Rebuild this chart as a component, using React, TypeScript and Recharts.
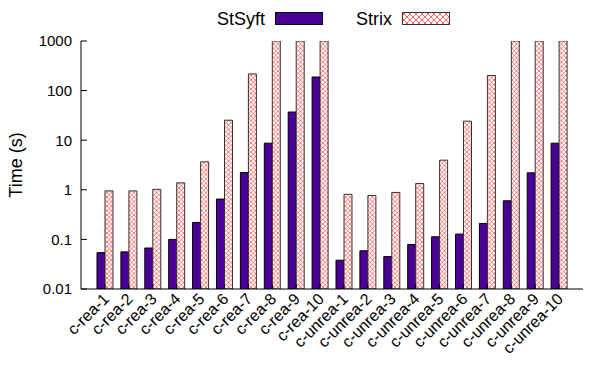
import React from 'react';
import { BarChart, Bar, XAxis, YAxis, Legend } from 'recharts';

const categories = [
  'c-rea-1', 'c-rea-2', 'c-rea-3', 'c-rea-4', 'c-rea-5', 'c-rea-6', 'c-rea-7', 'c-rea-8', 'c-rea-9', 'c-rea-10',
  'c-unrea-1', 'c-unrea-2', 'c-unrea-3', 'c-unrea-4', 'c-unrea-5', 'c-unrea-6', 'c-unrea-7', 'c-unrea-8', 'c-unrea-9', 'c-unrea-10',
];
const stsyftValues = [0.054, 0.056, 0.067, 0.1, 0.22, 0.65, 2.23, 8.7, 37, 188, 0.038, 0.059, 0.045, 0.079, 0.113, 0.128, 0.21, 0.6, 2.2, 8.7];
const strixValues = [0.95, 0.95, 1.02, 1.38, 3.66, 25.3, 217, 1000, 1000, 1000, 0.81, 0.77, 0.885, 1.34, 3.96, 24.2, 201, 1000, 1000, 1000];
const majorTicks = [0.01, 0.1, 1, 10, 100, 1000];
const minorTicks = [0.02, 0.05, 0.2, 0.5, 2, 5, 20, 50, 200, 500];
const seriesNames = ['StSyft', 'Strix'];

const data = categories.map((c, i) => ({ name: c, StSyft: stsyftValues[i], Strix: strixValues[i] }));

const FONT = 'Liberation Sans, Arial, Helvetica, sans-serif';
const PURPLE = '#4a0096';

const XTick = (props: any) => {
  const { x, y, payload } = props;
  return (
    <g transform={`translate(${x + 5},${y})`}>
      <text x={0} y={0} transform="rotate(-45)" textAnchor="end" fontSize={16} fontFamily={FONT} fill="#000">
        {payload.value}
      </text>
    </g>
  );
};

const NoTick = () => <g />;

const LegendContent = () => (
  <div style={{ width: 592, height: 33 }}>
    <svg width={592} height={33} style={{ display: 'block' }}>
      <defs>
        <pattern id="xhatchLegend" width="6" height="6" patternUnits="userSpaceOnUse">
          <rect width="6" height="6" fill="#fff" />
          <path d="M0,0 L6,6 M6,0 L0,6" stroke="#f22" strokeWidth="0.7" />
        </pattern>
      </defs>
      <text x={257} y={17} textAnchor="end" fontSize={18} fontFamily={FONT} fill="#000">{seriesNames[0]}</text>
      <rect x={267.5} y={4.5} width={47} height={12} fill={PURPLE} stroke="#000" strokeWidth={1} />
      <text x={384} y={17} textAnchor="end" fontSize={18} fontFamily={FONT} fill="#000">{seriesNames[1]}</text>
      <rect x={394.5} y={4.5} width={47} height={12} fill="url(#xhatchLegend)" stroke="#333" strokeWidth={1} />
    </svg>
  </div>
);

export default function App() {
  return (
    <BarChart
      width={592}
      height={349}
      data={data}
      margin={{ top: 0, right: 17, bottom: 0, left: 0 }}
      barGap={0}
      style={{ fontFamily: FONT }}
    >
      <defs>
        <pattern id="xhatch" width="4.5" height="4.5" patternUnits="userSpaceOnUse">
          <rect width="4.5" height="4.5" fill="#fff" />
          <path d="M0,0 L4.5,4.5 M4.5,0 L0,4.5" stroke="#f22" strokeWidth="0.6" />
        </pattern>
      </defs>
      <Legend verticalAlign="top" align="left" content={() => <LegendContent />} />
      <XAxis
        dataKey="name"
        height={68}
        padding={{ left: 12, right: 12 }}
        interval={0}
        tickSize={-5}
        tickMargin={16}
        tick={<XTick />}
        axisLine={{ stroke: '#000' }}
        tickLine={{ stroke: '#000' }}
      />
      <XAxis
        xAxisId="top"
        orientation="top"
        dataKey="name"
        height={0}
        padding={{ left: 12, right: 12 }}
        interval={0}
        tickSize={-5}
        tick={NoTick}
        axisLine={{ stroke: '#000' }}
        tickLine={{ stroke: '#000' }}
      />
      <YAxis
        yAxisId="ymin"
        type="number"
        scale="log"
        domain={[0.01, 1000]}
        allowDataOverflow
        ticks={minorTicks}
        interval={0}
        width={0}
        tickSize={-3}
        tick={NoTick}
        axisLine={false}
        tickLine={{ stroke: '#000' }}
      />
      <YAxis
        yAxisId="y"
        type="number"
        scale="log"
        domain={[0.01, 1000]}
        allowDataOverflow
        ticks={majorTicks}
        interval={0}
        width={73}
        tickSize={-6}
        tickMargin={15}
        tickFormatter={(v: number) => String(v)}
        tick={{ fontSize: 15, fill: '#000', fontFamily: FONT }}
        axisLine={{ stroke: '#000' }}
        tickLine={{ stroke: '#000' }}
        label={{ value: 'Time (s)', angle: -90, position: 'insideLeft', offset: 8, style: { textAnchor: 'middle', fontSize: 18, fill: '#000', fontFamily: FONT } }}
      />
      <YAxis
        yAxisId="r"
        orientation="right"
        type="number"
        scale="log"
        domain={[0.01, 1000]}
        allowDataOverflow
        ticks={majorTicks}
        interval={0}
        width={0}
        tickSize={-6}
        tick={NoTick}
        axisLine={{ stroke: '#000' }}
        tickLine={{ stroke: '#000' }}
      />
      <YAxis
        yAxisId="rmin"
        orientation="right"
        type="number"
        scale="log"
        domain={[0.01, 1000]}
        allowDataOverflow
        ticks={minorTicks}
        interval={0}
        width={0}
        tickSize={-3}
        tick={NoTick}
        axisLine={false}
        tickLine={{ stroke: '#000' }}
      />
      <Bar yAxisId="y" dataKey="StSyft" fill={PURPLE} stroke="#000" strokeWidth={1} barSize={8} isAnimationActive={false} />
      <Bar yAxisId="y" dataKey="Strix" fill="url(#xhatch)" stroke="#333" strokeWidth={1} barSize={8} isAnimationActive={false} />
    </BarChart>
  );
}
